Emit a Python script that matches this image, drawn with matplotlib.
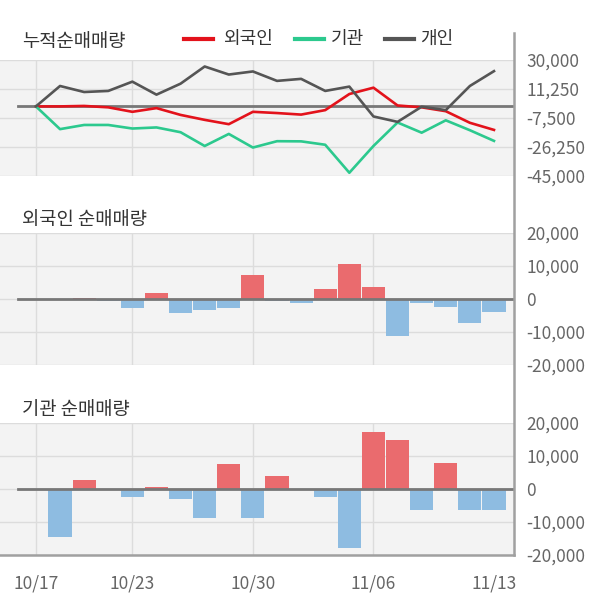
import matplotlib
matplotlib.use("Agg")
import matplotlib.pyplot as plt
from matplotlib.lines import Line2D
import numpy as np

plt.rcParams['font.family'] = ['Noto Sans CJK KR', 'DejaVu Sans']

dates = ["10/17", "10/18", "10/19", "10/20", "10/23", "10/24", "10/25", "10/26", "10/27", "10/30",
         "10/31", "11/01", "11/02", "11/03", "11/06", "11/07", "11/08", "11/09", "11/10", "11/13"]
tick_dates = ["10/17", "10/23", "10/30", "11/06", "11/13"]

foreign_cum = [0, 0, 300, -600, -3500, -1100, -5500, -8700, -11500, -3500,
               -4300, -5300, -2400, 8000, 12100, 600, -600, -3100, -10600, -15200]
inst_cum = [0, -14700, -12000, -12000, -14300, -13600, -16700, -25600, -17800, -26600,
            -22500, -22600, -24800, -42900, -25600, -10400, -17000, -9000, -15400, -22300]
indiv_cum = [0, 13200, 9300, 10000, 16000, 7600, 14700, 25800, 20600, 22600,
             16500, 17800, 10000, 12800, -6500, -10000, -200, -2400, 13200, 22800]

foreign_net = [0, 0, 400, -500, -2800, 1900, -4300, -3200, -2600, 7300,
               -600, -1300, 3100, 10700, 3700, -11200, -1300, -2500, -7300, -4000]
inst_net = [0, -14500, 2600, 0, -2300, 700, -3100, -8800, 7700, -8800,
            4000, 0, -2300, -17800, 17200, 14800, -6400, 8000, -6400, -6400]

W, H = 600, 604
fig = plt.figure(figsize=(6.0, 6.04), dpi=100)
fig.patch.set_facecolor('white')

BG = '#f3f3f3'
GRID = '#dcdcdc'
ZERO = '#777777'
TXT = '#666666'
RED_L = '#e3121b'
GREEN_L = '#2cc98e'
GRAY_L = '#555555'
RED_B = '#ea6b6e'
BLUE_B = '#8ebce1'
TICK_FS = 12.5

x = np.arange(len(dates))
tick_idx = [dates.index(d) for d in tick_dates]
vgrid_idx = tick_idx[:-1]
XL = (-1.49, 19.83)
right_px = 514


def add_ax(top, bottom):
    return fig.add_axes([0, 1 - bottom / H, right_px / W, (bottom - top) / H])


def style(ax, yticks, ylabels, ylim):
    ax.set_facecolor(BG)
    for s in ax.spines.values():
        s.set_visible(False)
    ax.set_xlim(*XL)
    ax.set_ylim(*ylim)
    for yv in yticks:
        ax.axhline(yv, color=GRID, lw=1, zorder=0)
    for xi in vgrid_idx:
        ax.axvline(xi, color=GRID, lw=1, zorder=0)
    ax.yaxis.tick_right()
    ax.set_yticks(yticks)
    ax.set_yticklabels(ylabels)
    ax.tick_params(axis='y', length=0, pad=9, labelsize=TICK_FS, labelcolor=TXT)
    ax.axhline(0, xmin=18 / right_px, xmax=1, color=ZERO, lw=2, zorder=3)


# Panel 1: cumulative
ax1 = add_ax(60, 176)
yt1 = [30000, 11250, -7500, -26250, -45000]
style(ax1, yt1, ["30,000", "11,250", "-7,500", "-26,250", "-45,000"], (-45000, 30000))
ax1.plot(x, foreign_cum, color=RED_L, lw=1.9, zorder=4)
ax1.plot(x, inst_cum, color=GREEN_L, lw=1.9, zorder=4)
ax1.plot(x, indiv_cum, color=GRAY_L, lw=1.9, zorder=5)
ax1.set_xticks([])

# Panel 2: foreign net
ax2 = add_ax(233, 365)
yt2 = [20000, 10000, 0, -10000, -20000]
yl2 = ["20,000", "10,000", "0", "-10,000", "-20,000"]
style(ax2, yt2, yl2, (-20000, 20000))
ax2.bar(x, foreign_net, width=0.96, color=[RED_B if v > 0 else BLUE_B for v in foreign_net], zorder=2)
ax2.set_xticks([])

# Panel 3: institution net
ax3 = add_ax(423, 555)
style(ax3, yt2, yl2, (-20000, 20000))
ax3.bar(x, inst_net, width=0.96, color=[RED_B if v > 0 else BLUE_B for v in inst_net], zorder=2)
ax3.set_xticks(tick_idx)
ax3.set_xticklabels(tick_dates)
ax3.tick_params(axis='x', length=0, pad=14, labelsize=TICK_FS, labelcolor=TXT)

# right axis line and bottom border
fig.add_artist(Line2D([right_px / W, right_px / W], [1 - 33 / H, 1 - 555 / H], color='#a0a0a0', lw=1.8))
fig.add_artist(Line2D([0, right_px / W], [1 - 555 / H, 1 - 555 / H], color='#a0a0a0', lw=1.8))

# titles
fig.text(22 / W, 1 - 41 / H, "누적순매매량", fontsize=13.5, color='#333333', va='center', ha='left')
fig.text(22 / W, 1 - 219 / H, "외국인 순매매량", fontsize=13.5, color='#333333', va='center', ha='left')
fig.text(22 / W, 1 - 410 / H, "기관 순매매량", fontsize=13.5, color='#333333', va='center', ha='left')

# legend
legend_items = [("외국인", RED_L, 184, 223), ("기관", GREEN_L, 295, 331), ("개인", GRAY_L, 385, 420)]
for name, col, lx, tx in legend_items:
    fig.add_artist(Line2D([lx / W, (lx + 29) / W], [1 - 39 / H, 1 - 39 / H], color=col, lw=3))
    fig.text(tx / W, 1 - 39 / H, name, fontsize=13, color='#333333', va='center', ha='left')

fig.savefig("out.png", dpi=100, facecolor='white')
